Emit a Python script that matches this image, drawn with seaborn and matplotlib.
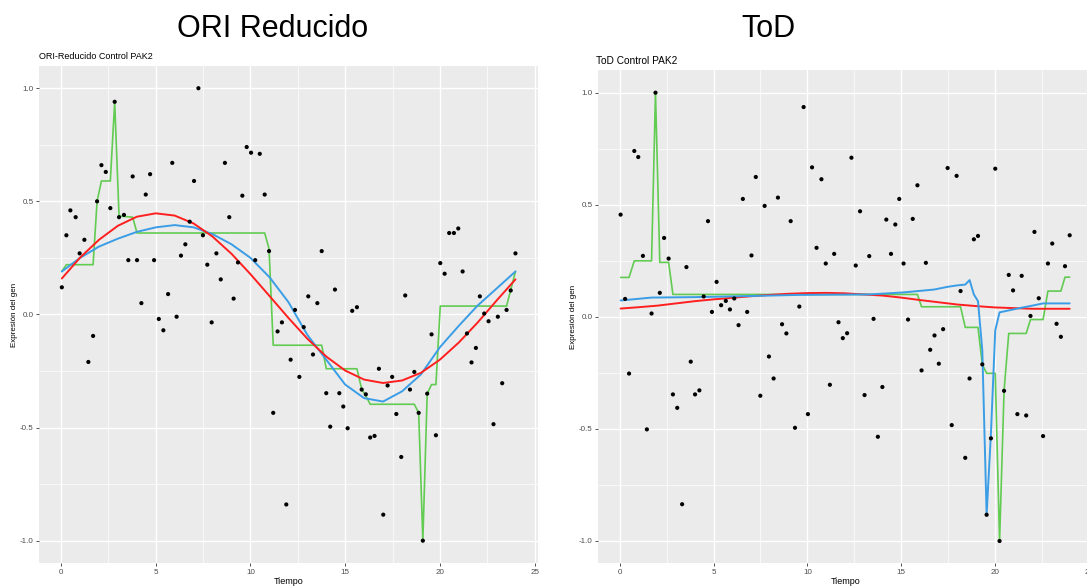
import matplotlib
matplotlib.use("Agg")
import matplotlib.pyplot as plt
import seaborn as sns
import pandas as pd
from matplotlib.ticker import MultipleLocator

# ---------------- data ----------------
times = [0.04, 0.28, 0.49, 0.77, 0.98, 1.23, 1.44, 1.69, 1.90, 2.13,
         2.36, 2.60, 2.83, 3.06, 3.32, 3.55, 3.78, 4.01, 4.24, 4.47,
         4.70, 4.91, 5.16, 5.40, 5.65, 5.87, 6.10, 6.33, 6.56, 6.79,
         7.02, 7.25, 7.49, 7.72, 7.95, 8.20, 8.43, 8.65, 8.88, 9.11,
         9.34, 9.57, 9.80, 10.03, 10.25, 10.49, 10.75, 10.98, 11.20, 11.43,
         11.66, 11.89, 12.12, 12.35, 12.58, 12.81, 13.05, 13.30, 13.53, 13.76,
         14.00, 14.21, 14.46, 14.69, 14.90, 15.13, 15.37, 15.62, 15.87, 16.09,
         16.32, 16.55, 16.78, 17.01, 17.24, 17.48, 17.70, 17.96, 18.17, 18.42,
         18.65, 18.88, 19.10, 19.33, 19.56, 19.79, 20.02, 20.25, 20.49, 20.74,
         20.97, 21.20, 21.43, 21.67, 21.90, 22.11, 22.34, 22.57, 22.83, 23.06,
         23.29, 23.52, 23.74, 23.99]

ori_expr = [0.12, 0.35, 0.46, 0.43, 0.27, 0.33, -0.21, -0.095, 0.50, 0.66,
            0.63, 0.47, 0.94, 0.43, 0.44, 0.24, 0.61, 0.24, 0.05, 0.53,
            0.62, 0.24, -0.02, -0.07, 0.09, 0.67, -0.01, 0.26, 0.31, 0.41,
            0.59, 1.00, 0.35, 0.22, -0.035, 0.27, 0.155, 0.67, 0.43, 0.07,
            0.23, 0.525, 0.74, 0.715, 0.24, 0.71, 0.53, 0.28, -0.435, -0.075,
            -0.035, -0.84, -0.20, 0.02, -0.276, -0.056, 0.08, -0.177, 0.05, 0.28,
            -0.348, -0.496, 0.11, -0.348, -0.407, -0.503, 0.016, 0.032, -0.332, -0.353,
            -0.544, -0.537, -0.24, -0.885, -0.314, -0.276, -0.44, -0.63, 0.084, -0.332,
            -0.254, -0.435, -1.0, -0.35, -0.088, -0.534, 0.227, 0.18, 0.36, 0.36,
            0.38, 0.19, -0.084, -0.212, -0.148, 0.08, 0.004, -0.03, -0.485, -0.01,
            -0.304, 0.02, 0.106, 0.27]

tod_expr = [0.456, 0.08, -0.253, 0.74, 0.713, 0.272, -0.502, 0.015, 1.0, 0.107,
            0.352, 0.26, -0.346, -0.406, -0.836, 0.222, -0.2, -0.346, -0.328, 0.091,
            0.427, 0.022, 0.156, 0.052, 0.071, 0.033, 0.082, -0.037, 0.526, 0.022,
            0.274, 0.624, -0.352, 0.495, -0.177, -0.275, 0.532, -0.033, -0.074, 0.427,
            -0.495, 0.046, 0.936, -0.434, 0.667, 0.308, 0.614, 0.238, -0.303, 0.281,
            -0.024, -0.095, -0.073, 0.71, 0.229, 0.471, -0.349, 0.271, -0.009, -0.535,
            -0.313, 0.434, 0.281, 0.412, 0.526, 0.238, -0.012, 0.437, 0.587, -0.239,
            0.241, -0.147, -0.083, -0.209, -0.055, 0.664, -0.483, 0.629, 0.115, -0.629,
            -0.275, 0.346, 0.361, -0.212, -0.883, -0.542, 0.661, -1.0, -0.33, 0.187,
            0.118, -0.434, 0.183, -0.44, 0.004, 0.379, 0.083, -0.532, 0.238, 0.327,
            -0.031, -0.089, 0.226, 0.364]

# smooth fits (read at whole hours)
fit_hours = [0.04, 1, 2, 3, 4, 5, 6, 7, 8, 9, 10, 11, 12, 13, 14, 15, 16, 17,
             18, 19, 20, 21, 22, 23, 23.99]
ori_red = [0.159, 0.251, 0.330, 0.392, 0.432, 0.447, 0.437, 0.402, 0.344, 0.268,
           0.178, 0.082, -0.015, -0.107, -0.186, -0.248, -0.288, -0.303, -0.292,
           -0.258, -0.200, -0.124, -0.035, 0.062, 0.155]
ori_blue = [0.19, 0.25, 0.30, 0.335, 0.365, 0.385, 0.395, 0.385, 0.355, 0.31,
            0.25, 0.165, 0.055, -0.09, -0.20, -0.31, -0.37, -0.385, -0.34,
            -0.265, -0.145, -0.05, 0.04, 0.115, 0.19]
tod_red = [0.037, 0.043, 0.050, 0.060, 0.070, 0.078, 0.085, 0.092, 0.098, 0.103,
           0.106, 0.107, 0.105, 0.100, 0.095, 0.086, 0.075, 0.065, 0.055,
           0.048, 0.042, 0.039, 0.036, 0.036, 0.036]

# step-like fits (vertices)
ori_green_t = [0.04, 0.28, 1.69, 1.90, 2.13, 2.60, 2.83, 3.06, 3.78, 4.01, 10.75,
               10.98, 11.20, 13.76, 14.00, 15.62, 15.87, 16.09, 16.32, 18.65, 18.88,
               19.10, 19.33, 19.56, 19.79, 20.02, 23.52, 23.99]
ori_green = [0.19, 0.22, 0.22, 0.50, 0.59, 0.59, 0.94, 0.435, 0.43, 0.36, 0.36,
             0.29, -0.136, -0.136, -0.24, -0.24, -0.33, -0.36, -0.397, -0.397, -0.435,
             -1.0, -0.35, -0.31, -0.31, 0.037, 0.037, 0.19]

tod_blue_t = [0.04, 1.69, 4.01, 7.02, 9.57, 13.30, 15.13, 16.78, 17.48, 17.96,
              18.42, 18.65, 18.88, 19.10, 19.33, 19.56, 19.79, 20.02, 20.25,
              21.20, 22.11, 22.57, 23.99]
tod_blue = [0.073, 0.086, 0.088, 0.093, 0.098, 0.100, 0.109, 0.122, 0.134, 0.140,
            0.144, 0.164, 0.10, 0.07, -0.15, -0.883, -0.52, -0.06, 0.02,
            0.037, 0.052, 0.06, 0.06]

tod_green_t = [0.04, 0.49, 0.77, 1.69, 1.90, 2.13, 2.60, 2.83, 15.87, 16.09,
               18.17, 18.42, 19.10, 19.33, 19.56, 20.02, 20.25, 20.49, 20.74,
               21.67, 21.90, 22.57, 22.83, 23.52, 23.74, 23.99]
tod_green = [0.176, 0.176, 0.25, 0.25, 1.0, 0.243, 0.243, 0.10, 0.10, 0.045,
             0.045, -0.047, -0.047, -0.212, -0.252, -0.252, -1.0, -0.33, -0.074,
             -0.074, -0.012, -0.012, 0.115, 0.115, 0.177, 0.177]

x_ticks = [0, 5, 10, 15, 20, 25]
y_ticks = [-1.0, -0.5, 0.0, 0.5, 1.0]
y_tick_labels = ["-1.0", "-0.5", "0.0", "0.5", "1.0"]

RED = "#FF1F1F"
BLUE = "#3A9DE6"
GREEN = "#62CB52"

# ---------------- style ----------------
sns.set_theme(style="darkgrid")
plt.rcParams['font.family'] = ['Liberation Sans', 'DejaVu Sans']

W, H = 1087, 588
fig = plt.figure(figsize=(W / 100, H / 100), dpi=100)
fig.patch.set_facecolor("white")


def ax_at(l, t, r, b):
    return fig.add_axes([l / W, 1 - b / H, (r - l) / W, (b - t) / H])


def style(ax):
    ax.set_facecolor("#EBEBEB")
    ax.set_xlim(-1.15, 25.18)
    ax.set_ylim(-1.1, 1.1)
    ax.set_xticks(x_ticks)
    ax.set_yticks(y_ticks)
    ax.set_yticklabels(y_tick_labels)
    ax.xaxis.set_minor_locator(MultipleLocator(2.5))
    ax.yaxis.set_minor_locator(MultipleLocator(0.25))
    ax.grid(which="major", color="white", linewidth=1.0)
    ax.grid(which="minor", color="white", linewidth=0.5)
    ax.set_axisbelow(True)
    for s in ax.spines.values():
        s.set_visible(False)
    ax.tick_params(axis="both", which="major", labelsize=5.8, labelcolor="#4D4D4D",
                   length=2.5, width=0.6, color="#333333", pad=1.5,
                   bottom=True, left=True)
    ax.tick_params(which="minor", length=0, bottom=False, left=False)
    ax.set_xlabel("Tiempo", fontsize=6.5, color="black", labelpad=1)
    ax.set_ylabel("Expresión del gen", fontsize=5.8, color="black", labelpad=1.5)


def draw(ax, expr, lines):
    df = pd.DataFrame({"Tiempo": times, "expr": expr})
    for tx, ty, col, lw in lines:
        d = pd.DataFrame({"t": tx, "y": ty})
        sns.lineplot(data=d, x="t", y="y", ax=ax, color=col, linewidth=lw,
                     estimator=None, sort=False, legend=False)
    sns.scatterplot(data=df, x="Tiempo", y="expr", ax=ax, color="black", s=9,
                    edgecolor="none", legend=False, zorder=5)


axL = ax_at(39.3, 65.6, 538, 563.3)
axR = ax_at(598.3, 70.3, 1092, 563.4)

draw(axL, ori_expr, [(ori_green_t, ori_green, GREEN, 1.2),
                     (fit_hours, ori_blue, BLUE, 1.4),
                     (fit_hours, ori_red, RED, 1.4)])
draw(axR, tod_expr, [(tod_green_t, tod_green, GREEN, 1.2),
                     (fit_hours, tod_red, RED, 1.4),
                     (tod_blue_t, tod_blue, BLUE, 1.4)])
style(axL)
style(axR)

# panel titles
fig.text(39 / W, 1 - 59 / H, "ORI-Reducido Control PAK2", fontsize=6.5,
         ha="left", va="baseline", color="black")
fig.text(596 / W, 1 - 64 / H, "ToD Control PAK2", fontsize=7.3,
         ha="left", va="baseline", color="black")

# big titles
fig.text(273 / W, 1 - 37 / H, "ORI Reducido", fontsize=22, ha="center",
         va="baseline", color="black")
fig.text(768 / W, 1 - 37 / H, "ToD", fontsize=22, ha="center",
         va="baseline", color="black")

fig.savefig("out.png", dpi=100, facecolor="white")
